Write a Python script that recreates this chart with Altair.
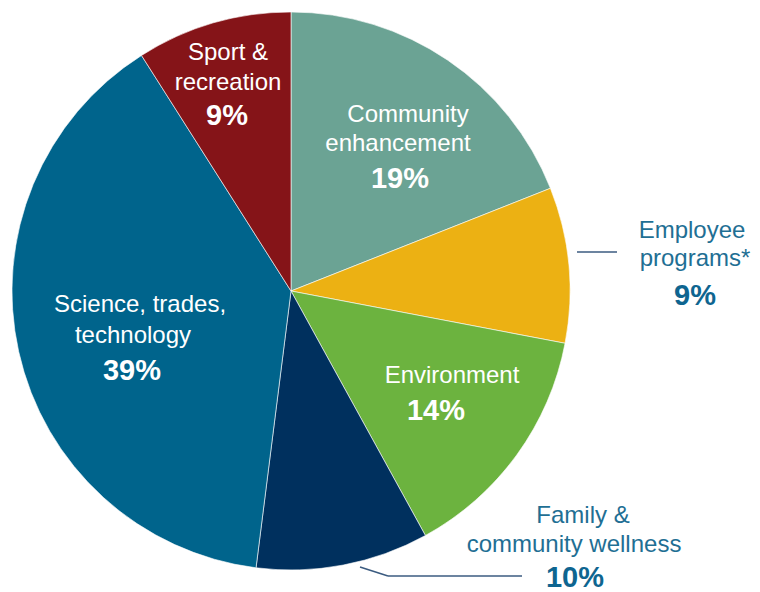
import altair as alt
import pandas as pd

categories = ["Community enhancement", "Employee programs*", "Environment",
              "Family & community wellness", "Science, trades, technology",
              "Sport & recreation"]
values = [19, 9, 14, 10, 39, 9]
colors = ["#6ba394", "#ecb113", "#6cb33f", "#00305e", "#00648c", "#851418"]

# label lines (text) for each category
label_lines = {
    "Community enhancement": ["Community", "enhancement"],
    "Employee programs*": ["Employee", "programs*"],
    "Environment": ["Environment"],
    "Family & community wellness": ["Family &", "community wellness"],
    "Science, trades, technology": ["Science, trades,", "technology"],
    "Sport & recreation": ["Sport &", "recreation"],
}

df = pd.DataFrame({"category": categories, "value": values,
                   "order": list(range(len(categories)))})

# layout (page px -> chart px offset of 8)
OFF = 8
CX, CY, R = 291 - OFF, 291 - OFF, 279
INSIDE = "#ffffff"
OUT_TXT = "#1f6f94"
OUT_PCT = "#0e6590"
layout = {
    "Community enhancement": ([(408, 122), (398, 151)], (400, 188), INSIDE, INSIDE),
    "Employee programs*": ([(692, 238), (695, 266)], (695, 305), OUT_TXT, OUT_PCT),
    "Environment": ([(452, 383)], (436, 420), INSIDE, INSIDE),
    "Family & community wellness": ([(583, 523), (574, 552)], (575, 587), OUT_TXT, OUT_PCT),
    "Science, trades, technology": ([(140, 312), (133, 343)], (132, 380), INSIDE, INSIDE),
    "Sport & recreation": ([(228, 60), (228, 90)], (227, 125), INSIDE, INSIDE),
}

pie = alt.Chart(df).mark_arc(outerRadius=R, stroke="#ffffff", strokeWidth=0.6).encode(
    theta=alt.Theta("value:Q", stack=True),
    order=alt.Order("order:Q"),
    color=alt.Color("category:N", scale=alt.Scale(domain=categories, range=colors), legend=None),
    x=alt.value(CX), y=alt.value(CY),
)

one = pd.DataFrame({"a": [0]})
layers = [pie]
FONT = "Liberation Sans"
for cat, val in zip(categories, values):
    lines, pct_pos, tcol, pcol = layout[cat]
    for txt, (px, py) in zip(label_lines[cat], lines):
        layers.append(alt.Chart(one).mark_text(
            text=txt, font=FONT, fontSize=24, fontWeight="normal", color=tcol,
            align="center", baseline="alphabetic").encode(
            x=alt.value(px - OFF), y=alt.value(py - OFF)))
    layers.append(alt.Chart(one).mark_text(
        text=f"{val}%", font=FONT, fontSize=29, fontWeight="bold", color=pcol,
        align="center", baseline="alphabetic").encode(
        x=alt.value(pct_pos[0] - OFF), y=alt.value(pct_pos[1] - OFF)))

LEADER = "#3b5b80"
segments = [((577, 252), (617, 252)), ((360, 567), (388, 576)), ((388, 576), (522, 576))]
for (x1, y1), (x2, y2) in segments:
    layers.append(alt.Chart(one).mark_rule(color=LEADER, strokeWidth=1.5).encode(
        x=alt.value(x1 - OFF), x2=alt.value(x2 - OFF),
        y=alt.value(y1 - OFF), y2=alt.value(y2 - OFF)))

chart = alt.layer(*layers).properties(
    width=744, height=583, padding=0, autosize="none"
).configure_view(stroke=None)

chart.save("out.html", embed_options={"renderer": "svg", "actions": False})
